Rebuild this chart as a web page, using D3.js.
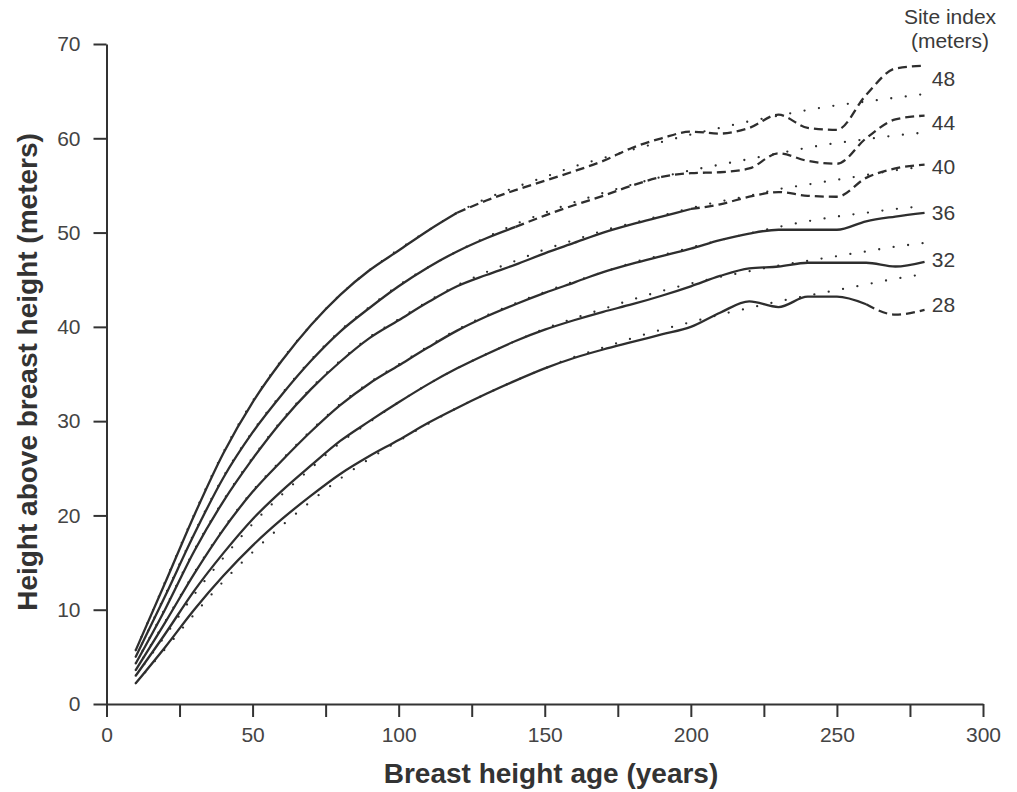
<!DOCTYPE html>
<html lang="en">
<head>
<meta charset="UTF-8">
<title>Site index curves</title>
<script src="https://d3js.org/d3.v7.min.js"></script>
<style>
body {
  margin: 0px;
  background: #fff;
  overflow: hidden;
}
text {
  font-family: "Liberation Sans", Arial, sans-serif;
  fill: #3a3a3a;
}
.tick text {
  font-size: 21px;
  fill: #444;
}
.tick line, .domain {
  stroke: #333;
  stroke-width: 2;
}
.axis-label {
  font-size: 28px;
  font-weight: bold;
  fill: #333;
}
.curve {
  fill: none;
  stroke: #2e2e2e;
  stroke-width: 2.3;
}
</style>
</head>
<body>
<svg width="1017" height="792"></svg>
<script>
// ages (breast height age, years)
const ages = [10,20,30,40,50,60,70,80,90,100,110,120,130,140,150,160,170,180,190,200,210,220,230,240,250,260,270,280];
const siteIndex = [48, 44, 40, 36, 32, 28];

// observed mean heights (solid, then dashed)
const h48 = [5.7,12.8,20.0,26.6,32.0,36.4,40.2,43.4,46.0,48.1,50.2,52.1,53.4,54.5,55.5,56.5,57.6,59.0,60.0,60.7,60.5,61.1,62.5,61.1,60.9,64.6,67.4,67.7];
const h44 = [5.0,11.4,18.0,24.0,28.8,32.8,36.4,39.5,42.0,44.3,46.3,48.0,49.4,50.6,51.8,52.9,53.9,55.0,55.9,56.3,56.4,56.8,58.4,57.6,57.3,60.0,62.0,62.4];
const h40 = [4.3,10.0,16.2,21.5,26.0,30.0,33.4,36.3,38.8,40.7,42.6,44.3,45.5,46.6,47.8,48.9,50.0,50.9,51.7,52.5,53.0,53.8,54.3,53.9,53.8,55.8,56.8,57.2];
const h36 = [3.6,8.6,13.8,18.5,22.5,25.8,28.9,31.7,34.0,35.9,37.8,39.6,41.1,42.4,43.6,44.7,45.8,46.7,47.5,48.3,49.2,49.9,50.3,50.3,50.3,51.2,51.7,52.1];
const h32 = [3.0,7.4,12.0,16.0,19.6,22.6,25.3,27.9,30.0,32.0,33.9,35.6,37.1,38.5,39.7,40.7,41.6,42.4,43.3,44.3,45.4,46.2,46.4,46.8,46.8,46.8,46.4,46.9];
const h28 = [2.2,6.0,10.0,13.6,16.8,19.6,22.1,24.4,26.3,28.0,29.8,31.4,32.9,34.3,35.6,36.7,37.6,38.4,39.2,40.0,41.5,42.7,42.1,43.2,43.2,42.4,41.3,41.8];

// fitted curves (dotted)
const f48 = [5.7,12.9,20.1,26.7,32.1,36.5,40.2,43.4,46.0,48.2,50.2,52.1,53.6,54.8,55.9,57.0,57.9,58.8,59.6,60.4,61.1,61.8,62.4,63.0,63.5,63.9,64.3,64.7];
const f44 = [5.0,11.5,18.1,24.1,28.9,32.9,36.5,39.6,42.1,44.4,46.3,48.0,49.5,50.9,52.1,53.2,54.2,55.1,55.9,56.6,57.2,57.8,58.4,59.0,59.5,59.9,60.3,60.6];
const f40 = [4.3,10.1,16.3,21.6,26.1,30.1,33.5,36.4,38.9,40.8,42.7,44.4,45.8,47.0,48.2,49.2,50.2,51.0,51.8,52.6,53.3,53.9,54.6,55.1,55.6,56.1,56.6,57.0];
const f36 = [3.6,8.7,13.9,18.6,22.6,25.9,29.0,31.8,34.1,36.0,37.9,39.7,41.2,42.5,43.7,44.8,45.8,46.8,47.6,48.4,49.2,49.9,50.6,51.2,51.7,52.1,52.5,52.8];
const f32 = [3.0,7.2,11.6,15.5,19.1,22.2,25.0,27.7,29.9,32.0,33.9,35.6,37.1,38.5,39.8,40.9,41.9,42.9,43.8,44.6,45.3,45.9,46.5,47.0,47.5,48.0,48.5,48.9];
const f28 = [2.2,5.8,9.5,13.0,16.1,18.9,21.5,23.9,26.0,27.9,29.7,31.4,32.9,34.3,35.6,36.8,37.8,38.8,39.7,40.5,41.3,42.0,42.7,43.3,43.9,44.5,45.1,45.6];

// age where the observed curve turns dashed
const dashFrom = [120, 140, 200, 280, 280, 260];
// height where each site index label sits
const labelAt = [66.3, 61.7, 57.0, 52.1, 47.1, 42.4];

const xTicks = [0,25,50,75,100,125,150,175,200,225,250,275,300];
const yTicks = [0,10,20,30,40,50,60,70];

(function (d3) {
  'use strict';

  const svg = d3.select('svg');

  const observed = [h48, h44, h40, h36, h32, h28];
  const fitted = [f48, f44, f40, f36, f32, f28];

  const xScale = d3.scaleLinear().domain([0, 300]).range([106.5, 983]);
  const yScale = d3.scaleLinear().domain([0, 70]).range([704, 44]);

  const xAxis = d3.axisBottom(xScale)
    .tickValues(xTicks)
    .tickFormat(d => d % 50 === 0 ? d : '')
    .tickSize(13)
    .tickSizeOuter(0)
    .tickPadding(10);

  const yAxis = d3.axisLeft(yScale)
    .tickValues(yTicks)
    .tickSize(13)
    .tickSizeOuter(0)
    .tickPadding(13);

  svg.append('g')
    .attr('transform', 'translate(0,704)')
    .call(xAxis);

  svg.append('g')
    .attr('transform', 'translate(106.5,0)')
    .call(yAxis);

  const line = d3.line()
    .x(d => xScale(d.age))
    .y(d => yScale(d.h))
    .curve(d3.curveMonotoneX);

  siteIndex.forEach((si, i) => {
    const obs = ages.map((a, j) => ({ age: a, h: observed[i][j] }));
    const fit = ages.map((a, j) => ({ age: a, h: fitted[i][j] }));

    // fitted model curve, dotted
    svg.append('path')
      .attr('class', 'curve')
      .attr('d', line(fit))
      .attr('stroke-width', 2.4)
      .attr('stroke-linecap', 'round')
      .attr('stroke-dasharray', '0,14.6');

    svg.append('path')
      .attr('class', 'curve')
      .attr('d', line(obs.filter(d => d.age <= dashFrom[i])));

    if (dashFrom[i] < 280) {
      svg.append('path')
        .attr('class', 'curve')
        .attr('d', line(obs.filter(d => d.age >= dashFrom[i])))
        .attr('stroke-dasharray', '9,5');
    }

    svg.append('text')
      .attr('x', xScale(282.5))
      .attr('y', yScale(labelAt[i]))
      .attr('dy', '0.35em')
      .attr('font-size', 21)
      .text(si);
  });

  svg.append('text')
    .attr('x', 950)
    .attr('y', 24)
    .attr('text-anchor', 'middle')
    .attr('font-size', 21)
    .text('Site index');

  svg.append('text')
    .attr('x', 950)
    .attr('y', 48)
    .attr('text-anchor', 'middle')
    .attr('font-size', 21)
    .text('(meters)');

  svg.append('text')
    .attr('class', 'axis-label')
    .attr('x', 551)
    .attr('y', 783)
    .attr('text-anchor', 'middle')
    .text('Breast height age (years)');

  svg.append('text')
    .attr('class', 'axis-label')
    .attr('transform', 'translate(37,372) rotate(-90)')
    .attr('text-anchor', 'middle')
    .text('Height above breast height (meters)');

}(d3));
</script>
</body>
</html>
